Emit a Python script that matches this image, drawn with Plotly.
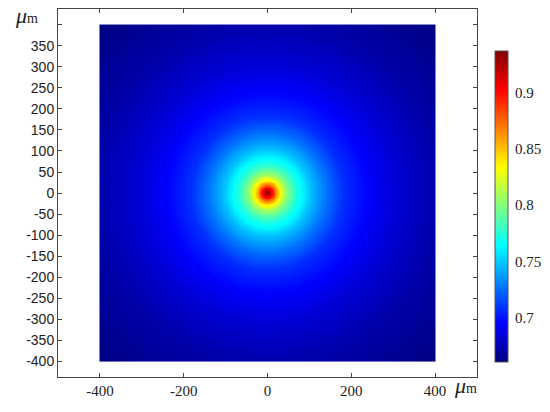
import numpy as np
import plotly.graph_objects as go

# radial profile (distance from centre in um -> value)
radius_um = [0, 4, 8, 14, 20, 30, 36, 44, 55, 67, 85, 103, 140, 182, 237, 300, 400, 570]
value = [0.937, 0.93, 0.912, 0.895, 0.868, 0.836, 0.822, 0.805, 0.79, 0.775, 0.762,
         0.748, 0.727, 0.708, 0.696, 0.685, 0.673, 0.661]

y_ticks = list(range(-400, 401, 50))
y_labels = [str(v) for v in y_ticks[:-1]] + [""]
x_ticks = [-400, -200, 0, 200, 400]
cb_ticks = [0.7, 0.75, 0.8, 0.85, 0.9]

# grid on the square domain
xs = np.linspace(-400, 400, 401)
ys = np.linspace(-400, 400, 401)
X, Y = np.meshgrid(xs, ys)
Z = np.interp(np.hypot(X, Y), radius_um, value)

jet = [[0, "#000080"], [0.125, "#0000ff"], [0.375, "#00ffff"],
       [0.625, "#ffff00"], [0.875, "#ff0000"], [1, "#800000"]]

fig = go.Figure(go.Heatmap(
    x=xs, y=ys, z=Z,
    colorscale=jet, zmin=0.661, zmax=0.937,
    colorbar=dict(
        x=1.044, xanchor="left", xpad=0,
        y=0.0144, yanchor="bottom", len=0.9, lenmode="fraction",
        thickness=13, outlinewidth=1, outlinecolor="#555",
        tickvals=cb_ticks, ticktext=[str(t) for t in cb_ticks],
        ticks="outside", ticklen=4, tickcolor="rgba(0,0,0,0)",
        tickfont=dict(family="Liberation Serif", size=15, color="#222"),
    ),
))

axis_common = dict(showline=True, linecolor="#444", linewidth=1, mirror="ticks",
                   ticks="inside", ticklen=4, tickcolor="#444",
                   showgrid=False, zeroline=False)

fig.update_xaxes(range=[-500, 500], tickvals=x_ticks, ticktext=[str(v) for v in x_ticks],
                 tickfont=dict(family="Liberation Serif", size=15, color="#222"),
                 **axis_common)
fig.update_yaxes(range=[-438, 438], tickvals=y_ticks, ticktext=y_labels,
                 tickfont=dict(family="Liberation Sans", size=14, color="#222"),
                 **axis_common)

# unit labels
unit = "<i>\u03bc</i><span style='font-size:14px'>m</span>"
fig.add_annotation(xref="paper", yref="paper", x=-0.107, y=0.981, xanchor="left", yanchor="middle",
                   text=unit, showarrow=False,
                   font=dict(family="Liberation Serif", size=22, color="#222"))
fig.add_annotation(xref="paper", yref="paper", x=0.941, y=-0.022, xanchor="left", yanchor="middle",
                   text=unit, showarrow=False,
                   font=dict(family="Liberation Serif", size=22, color="#222"))

fig.update_layout(
    width=550, height=412,
    margin=dict(l=58, r=73, t=9, b=35, autoexpand=False),
    plot_bgcolor="white", paper_bgcolor="white",
    showlegend=False,
)

# drop the default page margin so the figure sits at the window corner
fig.write_html("out.html", config={"displayModeBar": False},
               post_script="document.body.style.margin='0';")
